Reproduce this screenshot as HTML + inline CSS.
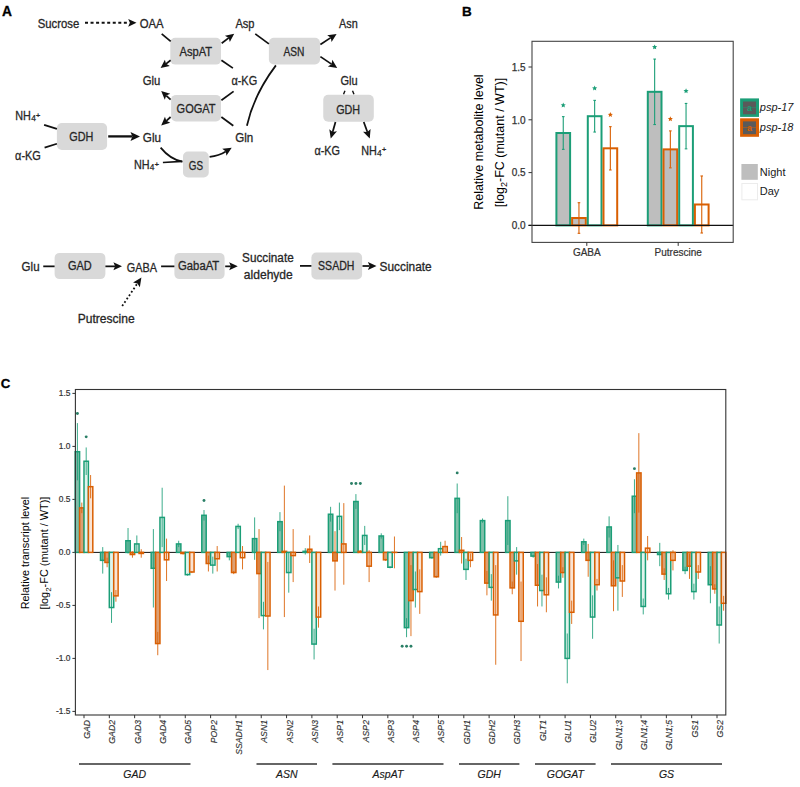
<!DOCTYPE html>
<html><head><meta charset="utf-8"><style>
html,body{margin:0;padding:0;background:#fff;}
svg{display:block;font-family:"Liberation Sans",sans-serif;}
</style></head><body>
<svg width="800" height="787" viewBox="0 0 800 787">
<rect width="800" height="787" fill="#fff"/>
<rect x="170.3" y="37.75" width="50.7" height="26.85" rx="5" ry="5" fill="#d9d9d9"/>
<rect x="171.1" y="94.9" width="49.9" height="26.6" rx="5" ry="5" fill="#d9d9d9"/>
<rect x="56.9" y="123.1" width="50.2" height="26.8" rx="5" ry="5" fill="#d9d9d9"/>
<rect x="183" y="151.5" width="25.75" height="25.9" rx="5" ry="5" fill="#d9d9d9"/>
<rect x="268.9" y="37.7" width="51.1" height="26.8" rx="5" ry="5" fill="#d9d9d9"/>
<rect x="323.25" y="94.7" width="50.55" height="27" rx="5" ry="5" fill="#d9d9d9"/>
<rect x="54.6" y="252.9" width="50.8" height="26.2" rx="5" ry="5" fill="#d9d9d9"/>
<rect x="174.4" y="252.9" width="50.2" height="26.2" rx="5" ry="5" fill="#d9d9d9"/>
<rect x="311.4" y="252.6" width="50.7" height="26.8" rx="5" ry="5" fill="#d9d9d9"/>
<line x1="85" y1="22.8" x2="127.5" y2="22.8" stroke="#111" stroke-width="1.9" stroke-dasharray="3 2.55"/>
<path d="M136.5,22.8 L128.2,26.7 L129.86,22.8 L128.2,18.9 Z" fill="#111"/>
<line x1="161.7" y1="33.8" x2="170.7" y2="41.4" stroke="#111" stroke-width="1.75" />
<path d="M234.2,33.7 L229.82,42.11 L228.74,37.89 L224.94,35.77 Z" fill="#111"/>
<line x1="221.7" y1="43.3" x2="228.74" y2="37.89" stroke="#111" stroke-width="1.75" />
<line x1="221.4" y1="60.25" x2="232.9" y2="68.1" stroke="#111" stroke-width="1.75" />
<path d="M160.6,68.1 L164.89,59.64 L166.01,63.85 L169.83,65.94 Z" fill="#111"/>
<line x1="170.6" y1="60.25" x2="166.01" y2="63.85" stroke="#111" stroke-width="1.75" />
<path d="M161.2,90.9 L170.23,93.81 L166.25,95.57 L164.79,99.68 Z" fill="#111"/>
<line x1="170.6" y1="99.6" x2="166.25" y2="95.57" stroke="#111" stroke-width="1.75" />
<line x1="221.4" y1="100.2" x2="233.6" y2="91.4" stroke="#111" stroke-width="1.75" />
<path d="M161.2,125.4 L164.95,116.69 L166.33,120.82 L170.28,122.65 Z" fill="#111"/>
<line x1="170.6" y1="117" x2="166.33" y2="120.82" stroke="#111" stroke-width="1.75" />
<line x1="221.4" y1="117" x2="233.3" y2="125.75" stroke="#111" stroke-width="1.75" />
<path d="M246.9,125.8 Q253.8,94.8 275.9,65.4" fill="none" stroke="#111" stroke-width="1.75"/>
<path d="M140,136.4 L130.5,140.9 L132.4,136.4 L130.5,131.9 Z" fill="#111"/>
<line x1="108.2" y1="136.4" x2="132.4" y2="136.4" stroke="#111" stroke-width="2.3" />
<line x1="44.1" y1="124.9" x2="56.9" y2="128.9" stroke="#111" stroke-width="1.75" />
<line x1="44.6" y1="147.6" x2="56.9" y2="143.75" stroke="#111" stroke-width="1.75" />
<path d="M160.6,147.6 Q170.5,159.6 182.4,161.6" fill="none" stroke="#111" stroke-width="1.75"/>
<line x1="162.9" y1="162.5" x2="182.2" y2="161.3" stroke="#111" stroke-width="1.75" />
<path d="M231.7,147.8 L226.44,155.69 L225.82,151.38 L222.27,148.86 Z" fill="#111"/>
<path d="M209.6,156.9 Q218.9,155.6 225.82,151.38" fill="none" stroke="#111" stroke-width="1.75"/>
<line x1="255.25" y1="33.9" x2="268.9" y2="43.85" stroke="#111" stroke-width="1.75" />
<path d="M336.6,33.9 L331.56,41.93 L330.83,37.64 L327.21,35.22 Z" fill="#111"/>
<line x1="320.4" y1="44.4" x2="330.83" y2="37.64" stroke="#111" stroke-width="1.75" />
<path d="M337.2,68 L327.84,66.48 L331.51,64.14 L332.33,59.86 Z" fill="#111"/>
<line x1="320.4" y1="56.6" x2="331.51" y2="64.14" stroke="#111" stroke-width="1.75" />
<line x1="343.5" y1="94.25" x2="345" y2="90.8" stroke="#111" stroke-width="1.4" />
<line x1="352.5" y1="90.8" x2="354" y2="94.25" stroke="#111" stroke-width="1.4" />
<path d="M330.75,138.5 L329.29,129.13 L332.65,131.89 L336.97,131.34 Z" fill="#111"/>
<line x1="335.5" y1="122" x2="332.65" y2="131.89" stroke="#111" stroke-width="1.75" />
<path d="M369.75,138.5 L363.05,131.78 L367.4,132.03 L370.57,129.05 Z" fill="#111"/>
<line x1="363.75" y1="122" x2="367.4" y2="132.03" stroke="#111" stroke-width="1.75" />
<line x1="43.25" y1="266.35" x2="54.6" y2="266.35" stroke="#111" stroke-width="1.75" />
<path d="M122,266.35 L113.4,270.35 L115.12,266.35 L113.4,262.35 Z" fill="#111"/>
<line x1="105.4" y1="266.35" x2="115.12" y2="266.35" stroke="#111" stroke-width="1.75" />
<line x1="161.1" y1="266.35" x2="174.4" y2="266.35" stroke="#111" stroke-width="1.75" />
<path d="M237.75,266.35 L229.15,270.35 L230.87,266.35 L229.15,262.35 Z" fill="#111"/>
<line x1="225.2" y1="266.35" x2="230.87" y2="266.35" stroke="#111" stroke-width="1.75" />
<line x1="300" y1="265.9" x2="311.4" y2="265.9" stroke="#111" stroke-width="1.75" />
<path d="M376.5,266 L367.9,270 L369.62,266 L367.9,262 Z" fill="#111"/>
<line x1="362.5" y1="266" x2="369.62" y2="266" stroke="#111" stroke-width="1.75" />
<path d="M141.4,277.6 L139.85,287.18 L137.44,283.42 L133.06,282.58 Z" fill="#111"/>
<line x1="122.2" y1="306" x2="137.44" y2="283.42" stroke="#111" stroke-width="1.8" stroke-dasharray="1.8 2.25"/>
<text x="37.7" y="27.8" font-size="12.5" textLength="41.6" lengthAdjust="spacingAndGlyphs" fill="#262626" stroke="#262626" stroke-width="0.3" >Sucrose</text>
<text x="139.7" y="27.8" font-size="12.5" textLength="23.9" lengthAdjust="spacingAndGlyphs" fill="#262626" stroke="#262626" stroke-width="0.3" >OAA</text>
<text x="235.4" y="27.7" font-size="12.5" textLength="19.1" lengthAdjust="spacingAndGlyphs" fill="#262626" stroke="#262626" stroke-width="0.3" >Asp</text>
<text x="339.1" y="27.75" font-size="12.5" textLength="18.7" lengthAdjust="spacingAndGlyphs" fill="#262626" stroke="#262626" stroke-width="0.3" >Asn</text>
<text x="179.5" y="55.75" font-size="12.5" textLength="32.6" lengthAdjust="spacingAndGlyphs" fill="#262626" stroke="#262626" stroke-width="0.3" >AspAT</text>
<text x="283.45" y="56.1" font-size="12.5" textLength="20.95" lengthAdjust="spacingAndGlyphs" fill="#262626" stroke="#262626" stroke-width="0.3" >ASN</text>
<text x="142.8" y="84.75" font-size="12.5" textLength="17.6" lengthAdjust="spacingAndGlyphs" fill="#262626" stroke="#262626" stroke-width="0.3" >Glu</text>
<text x="231.4" y="84.75" font-size="12.5" textLength="25.8" lengthAdjust="spacingAndGlyphs" fill="#262626" stroke="#262626" stroke-width="0.3" >&#945;-KG</text>
<text x="340.4" y="84.8" font-size="12.5" textLength="17.15" lengthAdjust="spacingAndGlyphs" fill="#262626" stroke="#262626" stroke-width="0.3" >Glu</text>
<text x="176.6" y="113.3" font-size="12.5" textLength="39" lengthAdjust="spacingAndGlyphs" fill="#262626" stroke="#262626" stroke-width="0.3" >GOGAT</text>
<text x="336.2" y="113.75" font-size="12.5" textLength="23.9" lengthAdjust="spacingAndGlyphs" fill="#262626" stroke="#262626" stroke-width="0.3" >GDH</text>
<text x="15.3" y="120.1" font-size="12.3" textLength="15.6" lengthAdjust="spacingAndGlyphs" fill="#262626" stroke="#262626" stroke-width="0.3">NH</text>
<text x="31.2" y="121.1" font-size="8.4" fill="#262626" stroke="#262626" stroke-width="0.25">4</text>
<text x="35.8" y="117.5" font-size="8" font-weight="bold" fill="#262626">+</text>
<text x="69.3" y="141.1" font-size="12.5" textLength="24.1" lengthAdjust="spacingAndGlyphs" fill="#262626" stroke="#262626" stroke-width="0.3" >GDH</text>
<text x="142.8" y="142" font-size="12.5" textLength="18.2" lengthAdjust="spacingAndGlyphs" fill="#262626" stroke="#262626" stroke-width="0.3" >Glu</text>
<text x="235.2" y="142" font-size="12.5" textLength="18" lengthAdjust="spacingAndGlyphs" fill="#262626" stroke="#262626" stroke-width="0.3" >Gln</text>
<text x="15.1" y="159.5" font-size="12.5" textLength="25.8" lengthAdjust="spacingAndGlyphs" fill="#262626" stroke="#262626" stroke-width="0.3" >&#945;-KG</text>
<text x="314.45" y="155" font-size="12.5" textLength="25.55" lengthAdjust="spacingAndGlyphs" fill="#262626" stroke="#262626" stroke-width="0.3" >&#945;-KG</text>
<text x="361.15" y="155" font-size="12.3" textLength="15.6" lengthAdjust="spacingAndGlyphs" fill="#262626" stroke="#262626" stroke-width="0.3">NH</text>
<text x="377.05" y="156" font-size="8.4" fill="#262626" stroke="#262626" stroke-width="0.25">4</text>
<text x="381.65" y="152.4" font-size="8" font-weight="bold" fill="#262626">+</text>
<text x="133.9" y="169.2" font-size="12.3" textLength="15.6" lengthAdjust="spacingAndGlyphs" fill="#262626" stroke="#262626" stroke-width="0.3">NH</text>
<text x="149.8" y="170.2" font-size="8.4" fill="#262626" stroke="#262626" stroke-width="0.25">4</text>
<text x="154.4" y="166.6" font-size="8" font-weight="bold" fill="#262626">+</text>
<text x="188.8" y="169.5" font-size="12.5" textLength="14.2" lengthAdjust="spacingAndGlyphs" fill="#262626" stroke="#262626" stroke-width="0.3" >GS</text>
<text x="21.6" y="271.25" font-size="12.5" textLength="17.95" lengthAdjust="spacingAndGlyphs" fill="#262626" stroke="#262626" stroke-width="0.3" >Glu</text>
<text x="67.95" y="270" font-size="12.5" textLength="23.75" lengthAdjust="spacingAndGlyphs" fill="#262626" stroke="#262626" stroke-width="0.3" >GAD</text>
<text x="126.8" y="271.6" font-size="12.5" textLength="30.25" lengthAdjust="spacingAndGlyphs" fill="#262626" stroke="#262626" stroke-width="0.3" >GABA</text>
<text x="178.1" y="270" font-size="12.5" textLength="41.1" lengthAdjust="spacingAndGlyphs" fill="#262626" stroke="#262626" stroke-width="0.3" >GabaAT</text>
<text x="242.1" y="261.9" font-size="12.5" textLength="51.6" lengthAdjust="spacingAndGlyphs" fill="#262626" stroke="#262626" stroke-width="0.3" >Succinate</text>
<text x="243.85" y="279.4" font-size="12.5" textLength="48.95" lengthAdjust="spacingAndGlyphs" fill="#262626" stroke="#262626" stroke-width="0.3" >aldehyde</text>
<text x="318.1" y="270.1" font-size="12.5" textLength="36.3" lengthAdjust="spacingAndGlyphs" fill="#262626" stroke="#262626" stroke-width="0.3" >SSADH</text>
<text x="379.6" y="271.25" font-size="12.5" textLength="52.1" lengthAdjust="spacingAndGlyphs" fill="#262626" stroke="#262626" stroke-width="0.3" >Succinate</text>
<text x="77.7" y="323" font-size="12.5" textLength="57" lengthAdjust="spacingAndGlyphs" fill="#262626" stroke="#262626" stroke-width="0.3" >Putrescine</text>
<text x="2.1" y="16" font-size="13.8" font-weight="bold" fill="#000" stroke="#000" stroke-width="0.3">A</text>
<text x="462" y="15.6" font-size="13.5" font-weight="bold" fill="#000" stroke="#000" stroke-width="0.3">B</text>
<text x="0.8" y="387.6" font-size="13.3" font-weight="bold" fill="#000" stroke="#000" stroke-width="0.3">C</text>
<line x1="528.5" y1="225.4" x2="532" y2="225.4" stroke="#333" stroke-width="1"/>
<text x="525.6" y="229.1" font-size="10" text-anchor="end" fill="#333" stroke="#333" stroke-width="0.25">0.0</text>
<line x1="528.5" y1="172.6" x2="532" y2="172.6" stroke="#333" stroke-width="1"/>
<text x="525.6" y="176.3" font-size="10" text-anchor="end" fill="#333" stroke="#333" stroke-width="0.25">0.5</text>
<line x1="528.5" y1="119.8" x2="532" y2="119.8" stroke="#333" stroke-width="1"/>
<text x="525.6" y="123.5" font-size="10" text-anchor="end" fill="#333" stroke="#333" stroke-width="0.25">1.0</text>
<line x1="528.5" y1="67" x2="532" y2="67" stroke="#333" stroke-width="1"/>
<text x="525.6" y="70.7" font-size="10" text-anchor="end" fill="#333" stroke="#333" stroke-width="0.25">1.5</text>
<rect x="556.4" y="133" width="13.7" height="92.4" fill="#bebebe" stroke="#1b9e77" stroke-width="2"/>
<rect x="572.1" y="218.01" width="13.7" height="7.39" fill="#bebebe" stroke="#d95f02" stroke-width="2"/>
<rect x="587.8" y="116.21" width="13.7" height="109.19" fill="white" stroke="#1b9e77" stroke-width="2"/>
<rect x="603.5" y="148.31" width="13.7" height="77.09" fill="white" stroke="#d95f02" stroke-width="2"/>
<line x1="563.25" y1="116.63" x2="563.25" y2="149.37" stroke="#1b9e77" stroke-width="1.1"/>
<line x1="561.95" y1="116.63" x2="564.55" y2="116.63" stroke="#1b9e77" stroke-width="1.1"/>
<line x1="561.95" y1="149.37" x2="564.55" y2="149.37" stroke="#1b9e77" stroke-width="1.1"/>
<polygon points="563.25,102.52 563.98,104.2 565.82,104.38 564.44,105.6 564.84,107.4 563.25,106.47 561.66,107.4 562.06,105.6 560.68,104.38 562.52,104.2" fill="#1b9e77"/>
<line x1="578.95" y1="202.7" x2="578.95" y2="233.32" stroke="#d95f02" stroke-width="1.1"/>
<line x1="577.65" y1="202.7" x2="580.25" y2="202.7" stroke="#d95f02" stroke-width="1.1"/>
<line x1="577.65" y1="233.32" x2="580.25" y2="233.32" stroke="#d95f02" stroke-width="1.1"/>
<line x1="594.65" y1="100.37" x2="594.65" y2="132.05" stroke="#1b9e77" stroke-width="1.1"/>
<line x1="593.35" y1="100.37" x2="595.95" y2="100.37" stroke="#1b9e77" stroke-width="1.1"/>
<line x1="593.35" y1="132.05" x2="595.95" y2="132.05" stroke="#1b9e77" stroke-width="1.1"/>
<polygon points="594.65,85.62 595.38,87.31 597.22,87.49 595.84,88.71 596.24,90.5 594.65,89.57 593.06,90.5 593.46,88.71 592.08,87.49 593.92,87.31" fill="#1b9e77"/>
<line x1="610.35" y1="126.66" x2="610.35" y2="169.96" stroke="#d95f02" stroke-width="1.1"/>
<line x1="609.05" y1="126.66" x2="611.65" y2="126.66" stroke="#d95f02" stroke-width="1.1"/>
<line x1="609.05" y1="169.96" x2="611.65" y2="169.96" stroke="#d95f02" stroke-width="1.1"/>
<polygon points="610.35,112.02 611.08,113.71 612.92,113.89 611.54,115.11 611.94,116.9 610.35,115.97 608.76,116.9 609.16,115.11 607.78,113.89 609.62,113.71" fill="#d95f02"/>
<rect x="647.8" y="91.82" width="13.7" height="133.58" fill="#bebebe" stroke="#1b9e77" stroke-width="2"/>
<rect x="663.5" y="149.37" width="13.7" height="76.03" fill="#bebebe" stroke="#d95f02" stroke-width="2"/>
<rect x="679.2" y="126.14" width="13.7" height="99.26" fill="white" stroke="#1b9e77" stroke-width="2"/>
<rect x="694.9" y="204.49" width="13.7" height="20.91" fill="white" stroke="#d95f02" stroke-width="2"/>
<line x1="654.65" y1="59.08" x2="654.65" y2="124.55" stroke="#1b9e77" stroke-width="1.1"/>
<line x1="653.35" y1="59.08" x2="655.95" y2="59.08" stroke="#1b9e77" stroke-width="1.1"/>
<line x1="653.35" y1="124.55" x2="655.95" y2="124.55" stroke="#1b9e77" stroke-width="1.1"/>
<polygon points="654.65,44.44 655.38,46.12 657.22,46.3 655.84,47.52 656.24,49.32 654.65,48.39 653.06,49.32 653.46,47.52 652.08,46.3 653.92,46.12" fill="#1b9e77"/>
<line x1="670.35" y1="130.89" x2="670.35" y2="167.85" stroke="#d95f02" stroke-width="1.1"/>
<line x1="669.05" y1="130.89" x2="671.65" y2="130.89" stroke="#d95f02" stroke-width="1.1"/>
<line x1="669.05" y1="167.85" x2="671.65" y2="167.85" stroke="#d95f02" stroke-width="1.1"/>
<polygon points="670.35,116.24 671.08,117.93 672.92,118.11 671.54,119.33 671.94,121.13 670.35,120.19 668.76,121.13 669.16,119.33 667.78,118.11 669.62,117.93" fill="#d95f02"/>
<line x1="686.05" y1="103.43" x2="686.05" y2="148.84" stroke="#1b9e77" stroke-width="1.1"/>
<line x1="684.75" y1="103.43" x2="687.35" y2="103.43" stroke="#1b9e77" stroke-width="1.1"/>
<line x1="684.75" y1="148.84" x2="687.35" y2="148.84" stroke="#1b9e77" stroke-width="1.1"/>
<polygon points="686.05,88.37 686.78,90.05 688.62,90.23 687.24,91.45 687.64,93.25 686.05,92.32 684.46,93.25 684.86,91.45 683.48,90.23 685.32,90.05" fill="#1b9e77"/>
<line x1="701.75" y1="175.98" x2="701.75" y2="233" stroke="#d95f02" stroke-width="1.1"/>
<line x1="700.45" y1="175.98" x2="703.05" y2="175.98" stroke="#d95f02" stroke-width="1.1"/>
<line x1="700.45" y1="233" x2="703.05" y2="233" stroke="#d95f02" stroke-width="1.1"/>
<line x1="528.5" y1="225.4" x2="733.2" y2="225.4" stroke="#111" stroke-width="1.1"/>
<rect x="532" y="41.3" width="201.2" height="201.1" fill="none" stroke="#444" stroke-width="1.1"/>
<line x1="586.8" y1="242.4" x2="586.8" y2="245.9" stroke="#333" stroke-width="1"/>
<text x="586.8" y="255.6" font-size="10" text-anchor="middle" fill="#333" stroke="#333" stroke-width="0.2">GABA</text>
<line x1="678.2" y1="242.4" x2="678.2" y2="245.9" stroke="#333" stroke-width="1"/>
<text x="678.2" y="255.6" font-size="10" text-anchor="middle" fill="#333" stroke="#333" stroke-width="0.2">Putrescine</text>
<text transform="translate(482.6,142.1) rotate(-90)" font-size="12.5" text-anchor="middle" fill="#000">Relative metabolite level</text>
<text transform="translate(504.4,142.5) rotate(-90)" font-size="12.5" text-anchor="middle" fill="#000">[log<tspan font-size="9" dy="2.5">2</tspan><tspan dy="-2.5">-FC (mutant / WT)]</tspan></text>
<rect x="740.1" y="98.4" width="18.9" height="18.5" fill="#1b9e77"/>
<rect x="743" y="101.5" width="13" height="12.8" fill="#5a5a5a"/>
<line x1="743" y1="107.6" x2="756" y2="107.6" stroke="#1b9e77" stroke-width="0.8" stroke-opacity="0.6"/>
<text x="749.5" y="111.4" font-size="9" font-weight="bold" text-anchor="middle" fill="#1b9e77">a</text>
<rect x="740.1" y="118.3" width="18.9" height="18.5" fill="#d95f02"/>
<rect x="743" y="121.4" width="13" height="12.8" fill="#5a5a5a"/>
<line x1="743" y1="127.5" x2="756" y2="127.5" stroke="#d95f02" stroke-width="0.8" stroke-opacity="0.6"/>
<text x="749.5" y="131.3" font-size="9" font-weight="bold" text-anchor="middle" fill="#d95f02">a</text>
<text x="759.8" y="111.4" font-size="11" font-style="italic" fill="#1a1a1a">psp-17</text>
<text x="759.8" y="131.1" font-size="11" font-style="italic" fill="#1a1a1a">psp-18</text>
<rect x="741.4" y="164" width="16.4" height="15.8" fill="#bebebe"/>
<rect x="741.9" y="183.5" width="15.6" height="16.3" fill="white" stroke="#ececec" stroke-width="1"/>
<text x="759.8" y="175.8" font-size="11" fill="#1a1a1a">Night</text>
<text x="759.8" y="195.4" font-size="11" fill="#1a1a1a">Day</text>
<line x1="72.4" y1="393.4" x2="75.4" y2="393.4" stroke="#333" stroke-width="1"/>
<text x="70.4" y="396.4" font-size="8.4" text-anchor="end" fill="#333" stroke="#333" stroke-width="0.2">1.5</text>
<line x1="72.4" y1="446.4" x2="75.4" y2="446.4" stroke="#333" stroke-width="1"/>
<text x="70.4" y="449.4" font-size="8.4" text-anchor="end" fill="#333" stroke="#333" stroke-width="0.2">1.0</text>
<line x1="72.4" y1="499.4" x2="75.4" y2="499.4" stroke="#333" stroke-width="1"/>
<text x="70.4" y="502.4" font-size="8.4" text-anchor="end" fill="#333" stroke="#333" stroke-width="0.2">0.5</text>
<line x1="72.4" y1="552.4" x2="75.4" y2="552.4" stroke="#333" stroke-width="1"/>
<text x="70.4" y="555.4" font-size="8.4" text-anchor="end" fill="#333" stroke="#333" stroke-width="0.2">0.0</text>
<line x1="72.4" y1="605.4" x2="75.4" y2="605.4" stroke="#333" stroke-width="1"/>
<text x="70.4" y="608.4" font-size="8.4" text-anchor="end" fill="#333" stroke="#333" stroke-width="0.2">-0.5</text>
<line x1="72.4" y1="658.4" x2="75.4" y2="658.4" stroke="#333" stroke-width="1"/>
<text x="70.4" y="661.4" font-size="8.4" text-anchor="end" fill="#333" stroke="#333" stroke-width="0.2">-1.0</text>
<line x1="72.4" y1="711.4" x2="75.4" y2="711.4" stroke="#333" stroke-width="1"/>
<text x="70.4" y="714.4" font-size="8.4" text-anchor="end" fill="#333" stroke="#333" stroke-width="0.2">-1.5</text>
<line x1="75.4" y1="552.4" x2="725.8" y2="552.4" stroke="#111" stroke-width="1"/>
<rect x="75.2" y="451.7" width="4.4" height="100.7" fill="#80bfa9" stroke="#1b9e77" stroke-width="1.5"/>
<rect x="79.6" y="507.88" width="4.4" height="44.52" fill="#dd9f72" stroke="#d95f02" stroke-width="1.5"/>
<rect x="84" y="461.24" width="4.4" height="91.16" fill="#e0f3ec" stroke="#1b9e77" stroke-width="1.5"/>
<rect x="88.4" y="486.68" width="4.4" height="65.72" fill="#fae3d3" stroke="#d95f02" stroke-width="1.5"/>
<line x1="77.4" y1="423.08" x2="77.4" y2="480.32" stroke="#1b9e77" stroke-width="0.95" stroke-opacity="0.9"/>
<line x1="81.8" y1="502.58" x2="81.8" y2="513.18" stroke="#d95f02" stroke-width="0.95" stroke-opacity="0.9"/>
<line x1="86.2" y1="447.46" x2="86.2" y2="475.02" stroke="#1b9e77" stroke-width="0.95" stroke-opacity="0.9"/>
<line x1="90.6" y1="475.02" x2="90.6" y2="498.34" stroke="#d95f02" stroke-width="0.95" stroke-opacity="0.9"/>
<rect x="100.52" y="552.4" width="4.4" height="7.95" fill="#80bfa9" stroke="#1b9e77" stroke-width="1.5"/>
<rect x="104.92" y="552.4" width="4.4" height="10.07" fill="#dd9f72" stroke="#d95f02" stroke-width="1.5"/>
<rect x="109.32" y="552.4" width="4.4" height="55.12" fill="#e0f3ec" stroke="#1b9e77" stroke-width="1.5"/>
<rect x="113.72" y="552.4" width="4.4" height="43.46" fill="#fae3d3" stroke="#d95f02" stroke-width="1.5"/>
<line x1="102.72" y1="547.1" x2="102.72" y2="573.6" stroke="#1b9e77" stroke-width="0.95" stroke-opacity="0.9"/>
<line x1="107.12" y1="557.7" x2="107.12" y2="567.24" stroke="#d95f02" stroke-width="0.95" stroke-opacity="0.9"/>
<line x1="111.52" y1="592.15" x2="111.52" y2="622.89" stroke="#1b9e77" stroke-width="0.95" stroke-opacity="0.9"/>
<line x1="115.92" y1="590.03" x2="115.92" y2="601.69" stroke="#d95f02" stroke-width="0.95" stroke-opacity="0.9"/>
<rect x="125.84" y="540.74" width="4.4" height="11.66" fill="#80bfa9" stroke="#1b9e77" stroke-width="1.5"/>
<rect x="130.24" y="552.4" width="4.4" height="2.12" fill="#dd9f72" stroke="#d95f02" stroke-width="1.5"/>
<rect x="134.64" y="543.92" width="4.4" height="8.48" fill="#e0f3ec" stroke="#1b9e77" stroke-width="1.5"/>
<rect x="139.04" y="552.4" width="4.4" height="1.06" fill="#fae3d3" stroke="#d95f02" stroke-width="1.5"/>
<line x1="128.04" y1="528.02" x2="128.04" y2="553.46" stroke="#1b9e77" stroke-width="0.95" stroke-opacity="0.9"/>
<line x1="132.44" y1="551.34" x2="132.44" y2="557.7" stroke="#d95f02" stroke-width="0.95" stroke-opacity="0.9"/>
<line x1="136.84" y1="535.44" x2="136.84" y2="552.4" stroke="#1b9e77" stroke-width="0.95" stroke-opacity="0.9"/>
<line x1="141.24" y1="549.22" x2="141.24" y2="557.7" stroke="#d95f02" stroke-width="0.95" stroke-opacity="0.9"/>
<rect x="151.16" y="552.4" width="4.4" height="15.9" fill="#80bfa9" stroke="#1b9e77" stroke-width="1.5"/>
<rect x="155.56" y="552.4" width="4.4" height="91.16" fill="#dd9f72" stroke="#d95f02" stroke-width="1.5"/>
<rect x="159.96" y="517.42" width="4.4" height="34.98" fill="#e0f3ec" stroke="#1b9e77" stroke-width="1.5"/>
<rect x="164.36" y="552.4" width="4.4" height="7.42" fill="#fae3d3" stroke="#d95f02" stroke-width="1.5"/>
<line x1="153.36" y1="529.08" x2="153.36" y2="607.52" stroke="#1b9e77" stroke-width="0.95" stroke-opacity="0.9"/>
<line x1="157.76" y1="631.9" x2="157.76" y2="655.22" stroke="#d95f02" stroke-width="0.95" stroke-opacity="0.9"/>
<line x1="162.16" y1="487.74" x2="162.16" y2="547.1" stroke="#1b9e77" stroke-width="0.95" stroke-opacity="0.9"/>
<line x1="166.56" y1="538.62" x2="166.56" y2="581.02" stroke="#d95f02" stroke-width="0.95" stroke-opacity="0.9"/>
<rect x="176.48" y="543.92" width="4.4" height="8.48" fill="#80bfa9" stroke="#1b9e77" stroke-width="1.5"/>
<rect x="180.88" y="552.4" width="4.4" height="1.06" fill="#dd9f72" stroke="#d95f02" stroke-width="1.5"/>
<rect x="185.28" y="552.4" width="4.4" height="22.26" fill="#e0f3ec" stroke="#1b9e77" stroke-width="1.5"/>
<rect x="189.68" y="552.4" width="4.4" height="19.61" fill="#fae3d3" stroke="#d95f02" stroke-width="1.5"/>
<line x1="178.68" y1="540.74" x2="178.68" y2="547.1" stroke="#1b9e77" stroke-width="0.95" stroke-opacity="0.9"/>
<line x1="183.08" y1="552.4" x2="183.08" y2="554.52" stroke="#d95f02" stroke-width="0.95" stroke-opacity="0.9"/>
<line x1="187.48" y1="573.6" x2="187.48" y2="575.72" stroke="#1b9e77" stroke-width="0.95" stroke-opacity="0.9"/>
<line x1="191.88" y1="570.95" x2="191.88" y2="573.07" stroke="#d95f02" stroke-width="0.95" stroke-opacity="0.9"/>
<rect x="201.8" y="515.3" width="4.4" height="37.1" fill="#80bfa9" stroke="#1b9e77" stroke-width="1.5"/>
<rect x="206.2" y="552.4" width="4.4" height="11.13" fill="#dd9f72" stroke="#d95f02" stroke-width="1.5"/>
<rect x="210.6" y="552.4" width="4.4" height="12.72" fill="#e0f3ec" stroke="#1b9e77" stroke-width="1.5"/>
<rect x="215" y="552.4" width="4.4" height="6.36" fill="#fae3d3" stroke="#d95f02" stroke-width="1.5"/>
<line x1="204" y1="510" x2="204" y2="520.6" stroke="#1b9e77" stroke-width="0.95" stroke-opacity="0.9"/>
<line x1="208.4" y1="555.58" x2="208.4" y2="571.48" stroke="#d95f02" stroke-width="0.95" stroke-opacity="0.9"/>
<line x1="212.8" y1="556.64" x2="212.8" y2="573.6" stroke="#1b9e77" stroke-width="0.95" stroke-opacity="0.9"/>
<line x1="217.2" y1="546.04" x2="217.2" y2="571.48" stroke="#d95f02" stroke-width="0.95" stroke-opacity="0.9"/>
<rect x="227.12" y="552.4" width="4.4" height="4.24" fill="#80bfa9" stroke="#1b9e77" stroke-width="1.5"/>
<rect x="231.52" y="552.4" width="4.4" height="20.14" fill="#dd9f72" stroke="#d95f02" stroke-width="1.5"/>
<rect x="235.92" y="526.43" width="4.4" height="25.97" fill="#e0f3ec" stroke="#1b9e77" stroke-width="1.5"/>
<rect x="240.32" y="552.4" width="4.4" height="5.3" fill="#fae3d3" stroke="#d95f02" stroke-width="1.5"/>
<line x1="229.32" y1="552.93" x2="229.32" y2="560.35" stroke="#1b9e77" stroke-width="0.95" stroke-opacity="0.9"/>
<line x1="233.72" y1="570.95" x2="233.72" y2="574.13" stroke="#d95f02" stroke-width="0.95" stroke-opacity="0.9"/>
<line x1="238.12" y1="523.78" x2="238.12" y2="529.08" stroke="#1b9e77" stroke-width="0.95" stroke-opacity="0.9"/>
<line x1="242.52" y1="546.04" x2="242.52" y2="569.36" stroke="#d95f02" stroke-width="0.95" stroke-opacity="0.9"/>
<rect x="252.44" y="538.62" width="4.4" height="13.78" fill="#80bfa9" stroke="#1b9e77" stroke-width="1.5"/>
<rect x="256.84" y="552.4" width="4.4" height="21.2" fill="#dd9f72" stroke="#d95f02" stroke-width="1.5"/>
<rect x="261.24" y="552.4" width="4.4" height="63.18" fill="#e0f3ec" stroke="#1b9e77" stroke-width="1.5"/>
<rect x="265.64" y="552.4" width="4.4" height="63.6" fill="#fae3d3" stroke="#d95f02" stroke-width="1.5"/>
<line x1="254.64" y1="517.42" x2="254.64" y2="559.82" stroke="#1b9e77" stroke-width="0.95" stroke-opacity="0.9"/>
<line x1="259.04" y1="529.08" x2="259.04" y2="618.12" stroke="#d95f02" stroke-width="0.95" stroke-opacity="0.9"/>
<line x1="263.44" y1="601.8" x2="263.44" y2="629.36" stroke="#1b9e77" stroke-width="0.95" stroke-opacity="0.9"/>
<line x1="267.84" y1="561.94" x2="267.84" y2="670.06" stroke="#d95f02" stroke-width="0.95" stroke-opacity="0.9"/>
<rect x="277.76" y="521.66" width="4.4" height="30.74" fill="#80bfa9" stroke="#1b9e77" stroke-width="1.5"/>
<rect x="282.16" y="551.34" width="4.4" height="1.06" fill="#dd9f72" stroke="#d95f02" stroke-width="1.5"/>
<rect x="286.56" y="552.4" width="4.4" height="20.14" fill="#e0f3ec" stroke="#1b9e77" stroke-width="1.5"/>
<rect x="290.96" y="552.4" width="4.4" height="3.18" fill="#fae3d3" stroke="#d95f02" stroke-width="1.5"/>
<line x1="279.96" y1="512.12" x2="279.96" y2="531.2" stroke="#1b9e77" stroke-width="0.95" stroke-opacity="0.9"/>
<line x1="284.36" y1="485.62" x2="284.36" y2="617.06" stroke="#d95f02" stroke-width="0.95" stroke-opacity="0.9"/>
<line x1="288.76" y1="552.4" x2="288.76" y2="592.68" stroke="#1b9e77" stroke-width="0.95" stroke-opacity="0.9"/>
<line x1="293.16" y1="529.08" x2="293.16" y2="582.08" stroke="#d95f02" stroke-width="0.95" stroke-opacity="0.9"/>
<rect x="303.08" y="551.34" width="4.4" height="1.06" fill="#80bfa9" stroke="#1b9e77" stroke-width="1.5"/>
<rect x="307.48" y="549.22" width="4.4" height="3.18" fill="#dd9f72" stroke="#d95f02" stroke-width="1.5"/>
<rect x="311.88" y="552.4" width="4.4" height="91.69" fill="#e0f3ec" stroke="#1b9e77" stroke-width="1.5"/>
<rect x="316.28" y="552.4" width="4.4" height="64.66" fill="#fae3d3" stroke="#d95f02" stroke-width="1.5"/>
<line x1="305.28" y1="548.16" x2="305.28" y2="554.52" stroke="#1b9e77" stroke-width="0.95" stroke-opacity="0.9"/>
<line x1="309.68" y1="535.44" x2="309.68" y2="563" stroke="#d95f02" stroke-width="0.95" stroke-opacity="0.9"/>
<line x1="314.08" y1="628.72" x2="314.08" y2="659.46" stroke="#1b9e77" stroke-width="0.95" stroke-opacity="0.9"/>
<line x1="318.48" y1="606.46" x2="318.48" y2="627.66" stroke="#d95f02" stroke-width="0.95" stroke-opacity="0.9"/>
<rect x="328.4" y="514.24" width="4.4" height="38.16" fill="#80bfa9" stroke="#1b9e77" stroke-width="1.5"/>
<rect x="332.8" y="552.4" width="4.4" height="8.48" fill="#dd9f72" stroke="#d95f02" stroke-width="1.5"/>
<rect x="337.2" y="516.36" width="4.4" height="36.04" fill="#e0f3ec" stroke="#1b9e77" stroke-width="1.5"/>
<rect x="341.6" y="543.92" width="4.4" height="8.48" fill="#fae3d3" stroke="#d95f02" stroke-width="1.5"/>
<line x1="330.6" y1="506.82" x2="330.6" y2="521.66" stroke="#1b9e77" stroke-width="0.95" stroke-opacity="0.9"/>
<line x1="335" y1="531.2" x2="335" y2="590.56" stroke="#d95f02" stroke-width="0.95" stroke-opacity="0.9"/>
<line x1="339.4" y1="502.58" x2="339.4" y2="530.14" stroke="#1b9e77" stroke-width="0.95" stroke-opacity="0.9"/>
<line x1="343.8" y1="503.11" x2="343.8" y2="584.73" stroke="#d95f02" stroke-width="0.95" stroke-opacity="0.9"/>
<rect x="353.72" y="501.52" width="4.4" height="50.88" fill="#80bfa9" stroke="#1b9e77" stroke-width="1.5"/>
<rect x="358.12" y="551.34" width="4.4" height="1.06" fill="#dd9f72" stroke="#d95f02" stroke-width="1.5"/>
<rect x="362.52" y="535.44" width="4.4" height="16.96" fill="#e0f3ec" stroke="#1b9e77" stroke-width="1.5"/>
<rect x="366.92" y="552.4" width="4.4" height="13.78" fill="#fae3d3" stroke="#d95f02" stroke-width="1.5"/>
<line x1="355.92" y1="494.1" x2="355.92" y2="508.94" stroke="#1b9e77" stroke-width="0.95" stroke-opacity="0.9"/>
<line x1="360.32" y1="550.28" x2="360.32" y2="552.4" stroke="#d95f02" stroke-width="0.95" stroke-opacity="0.9"/>
<line x1="364.72" y1="525.9" x2="364.72" y2="544.98" stroke="#1b9e77" stroke-width="0.95" stroke-opacity="0.9"/>
<line x1="369.12" y1="550.28" x2="369.12" y2="582.08" stroke="#d95f02" stroke-width="0.95" stroke-opacity="0.9"/>
<rect x="379.04" y="535.97" width="4.4" height="16.43" fill="#80bfa9" stroke="#1b9e77" stroke-width="1.5"/>
<rect x="383.44" y="552.4" width="4.4" height="7.42" fill="#dd9f72" stroke="#d95f02" stroke-width="1.5"/>
<rect x="387.84" y="552.4" width="4.4" height="14.84" fill="#e0f3ec" stroke="#1b9e77" stroke-width="1.5"/>
<rect x="392.24" y="552.4" width="4.4" height="0.01" fill="#fae3d3" stroke="#d95f02" stroke-width="1.5"/>
<line x1="381.24" y1="533.32" x2="381.24" y2="538.62" stroke="#1b9e77" stroke-width="0.95" stroke-opacity="0.9"/>
<line x1="385.64" y1="558.76" x2="385.64" y2="560.88" stroke="#d95f02" stroke-width="0.95" stroke-opacity="0.9"/>
<line x1="390.04" y1="566.18" x2="390.04" y2="568.3" stroke="#1b9e77" stroke-width="0.95" stroke-opacity="0.9"/>
<line x1="394.44" y1="536.5" x2="394.44" y2="568.3" stroke="#d95f02" stroke-width="0.95" stroke-opacity="0.9"/>
<rect x="404.36" y="552.4" width="4.4" height="75.26" fill="#80bfa9" stroke="#1b9e77" stroke-width="1.5"/>
<rect x="408.76" y="552.4" width="4.4" height="48.23" fill="#dd9f72" stroke="#d95f02" stroke-width="1.5"/>
<rect x="413.16" y="552.4" width="4.4" height="37.1" fill="#e0f3ec" stroke="#1b9e77" stroke-width="1.5"/>
<rect x="417.56" y="552.4" width="4.4" height="39.22" fill="#fae3d3" stroke="#d95f02" stroke-width="1.5"/>
<line x1="406.56" y1="618.12" x2="406.56" y2="637.2" stroke="#1b9e77" stroke-width="0.95" stroke-opacity="0.9"/>
<line x1="410.96" y1="565.12" x2="410.96" y2="636.14" stroke="#d95f02" stroke-width="0.95" stroke-opacity="0.9"/>
<line x1="415.36" y1="571.48" x2="415.36" y2="607.52" stroke="#1b9e77" stroke-width="0.95" stroke-opacity="0.9"/>
<line x1="419.76" y1="569.36" x2="419.76" y2="613.88" stroke="#d95f02" stroke-width="0.95" stroke-opacity="0.9"/>
<rect x="429.68" y="552.4" width="4.4" height="5.3" fill="#80bfa9" stroke="#1b9e77" stroke-width="1.5"/>
<rect x="434.08" y="552.4" width="4.4" height="24.38" fill="#dd9f72" stroke="#d95f02" stroke-width="1.5"/>
<rect x="438.48" y="548.69" width="4.4" height="3.71" fill="#e0f3ec" stroke="#1b9e77" stroke-width="1.5"/>
<rect x="442.88" y="546.57" width="4.4" height="5.83" fill="#fae3d3" stroke="#d95f02" stroke-width="1.5"/>
<line x1="431.88" y1="556.64" x2="431.88" y2="558.76" stroke="#1b9e77" stroke-width="0.95" stroke-opacity="0.9"/>
<line x1="436.28" y1="575.72" x2="436.28" y2="577.84" stroke="#d95f02" stroke-width="0.95" stroke-opacity="0.9"/>
<line x1="440.68" y1="541.8" x2="440.68" y2="555.58" stroke="#1b9e77" stroke-width="0.95" stroke-opacity="0.9"/>
<line x1="445.08" y1="540.74" x2="445.08" y2="552.4" stroke="#d95f02" stroke-width="0.95" stroke-opacity="0.9"/>
<rect x="455" y="498.34" width="4.4" height="54.06" fill="#80bfa9" stroke="#1b9e77" stroke-width="1.5"/>
<rect x="459.4" y="550.28" width="4.4" height="2.12" fill="#dd9f72" stroke="#d95f02" stroke-width="1.5"/>
<rect x="463.8" y="552.4" width="4.4" height="16.96" fill="#e0f3ec" stroke="#1b9e77" stroke-width="1.5"/>
<rect x="468.2" y="552.4" width="4.4" height="7.95" fill="#fae3d3" stroke="#d95f02" stroke-width="1.5"/>
<line x1="457.2" y1="483.5" x2="457.2" y2="513.18" stroke="#1b9e77" stroke-width="0.95" stroke-opacity="0.9"/>
<line x1="461.6" y1="537.03" x2="461.6" y2="563.53" stroke="#d95f02" stroke-width="0.95" stroke-opacity="0.9"/>
<line x1="466" y1="558.76" x2="466" y2="579.96" stroke="#1b9e77" stroke-width="0.95" stroke-opacity="0.9"/>
<line x1="470.4" y1="553.46" x2="470.4" y2="567.24" stroke="#d95f02" stroke-width="0.95" stroke-opacity="0.9"/>
<rect x="480.32" y="520.6" width="4.4" height="31.8" fill="#80bfa9" stroke="#1b9e77" stroke-width="1.5"/>
<rect x="484.72" y="552.4" width="4.4" height="30.74" fill="#dd9f72" stroke="#d95f02" stroke-width="1.5"/>
<rect x="489.12" y="552.4" width="4.4" height="34.98" fill="#e0f3ec" stroke="#1b9e77" stroke-width="1.5"/>
<rect x="493.52" y="552.4" width="4.4" height="62.54" fill="#fae3d3" stroke="#d95f02" stroke-width="1.5"/>
<line x1="482.52" y1="518.48" x2="482.52" y2="522.72" stroke="#1b9e77" stroke-width="0.95" stroke-opacity="0.9"/>
<line x1="486.92" y1="570.95" x2="486.92" y2="595.33" stroke="#d95f02" stroke-width="0.95" stroke-opacity="0.9"/>
<line x1="491.32" y1="574.13" x2="491.32" y2="600.63" stroke="#1b9e77" stroke-width="0.95" stroke-opacity="0.9"/>
<line x1="495.72" y1="565.12" x2="495.72" y2="664.76" stroke="#d95f02" stroke-width="0.95" stroke-opacity="0.9"/>
<rect x="505.64" y="520.6" width="4.4" height="31.8" fill="#80bfa9" stroke="#1b9e77" stroke-width="1.5"/>
<rect x="510.04" y="552.4" width="4.4" height="35.51" fill="#dd9f72" stroke="#d95f02" stroke-width="1.5"/>
<rect x="514.44" y="552.4" width="4.4" height="8.48" fill="#e0f3ec" stroke="#1b9e77" stroke-width="1.5"/>
<rect x="518.84" y="552.4" width="4.4" height="68.9" fill="#fae3d3" stroke="#d95f02" stroke-width="1.5"/>
<line x1="507.84" y1="496.22" x2="507.84" y2="544.98" stroke="#1b9e77" stroke-width="0.95" stroke-opacity="0.9"/>
<line x1="512.24" y1="581.55" x2="512.24" y2="594.27" stroke="#d95f02" stroke-width="0.95" stroke-opacity="0.9"/>
<line x1="516.64" y1="547.1" x2="516.64" y2="574.66" stroke="#1b9e77" stroke-width="0.95" stroke-opacity="0.9"/>
<line x1="521.04" y1="581.55" x2="521.04" y2="661.05" stroke="#d95f02" stroke-width="0.95" stroke-opacity="0.9"/>
<rect x="530.96" y="552.4" width="4.4" height="3.71" fill="#80bfa9" stroke="#1b9e77" stroke-width="1.5"/>
<rect x="535.36" y="552.4" width="4.4" height="32.86" fill="#dd9f72" stroke="#d95f02" stroke-width="1.5"/>
<rect x="539.76" y="552.4" width="4.4" height="38.16" fill="#e0f3ec" stroke="#1b9e77" stroke-width="1.5"/>
<rect x="544.16" y="552.4" width="4.4" height="42.4" fill="#fae3d3" stroke="#d95f02" stroke-width="1.5"/>
<line x1="533.16" y1="554.52" x2="533.16" y2="557.7" stroke="#1b9e77" stroke-width="0.95" stroke-opacity="0.9"/>
<line x1="537.56" y1="564.06" x2="537.56" y2="606.46" stroke="#d95f02" stroke-width="0.95" stroke-opacity="0.9"/>
<line x1="541.96" y1="574.66" x2="541.96" y2="606.46" stroke="#1b9e77" stroke-width="0.95" stroke-opacity="0.9"/>
<line x1="546.36" y1="577.31" x2="546.36" y2="612.29" stroke="#d95f02" stroke-width="0.95" stroke-opacity="0.9"/>
<rect x="556.28" y="552.4" width="4.4" height="29.68" fill="#80bfa9" stroke="#1b9e77" stroke-width="1.5"/>
<rect x="560.68" y="552.4" width="4.4" height="20.14" fill="#dd9f72" stroke="#d95f02" stroke-width="1.5"/>
<rect x="565.08" y="552.4" width="4.4" height="106" fill="#e0f3ec" stroke="#1b9e77" stroke-width="1.5"/>
<rect x="569.48" y="552.4" width="4.4" height="59.89" fill="#fae3d3" stroke="#d95f02" stroke-width="1.5"/>
<line x1="558.48" y1="575.72" x2="558.48" y2="588.44" stroke="#1b9e77" stroke-width="0.95" stroke-opacity="0.9"/>
<line x1="562.88" y1="567.24" x2="562.88" y2="577.84" stroke="#d95f02" stroke-width="0.95" stroke-opacity="0.9"/>
<line x1="567.28" y1="633.49" x2="567.28" y2="683.31" stroke="#1b9e77" stroke-width="0.95" stroke-opacity="0.9"/>
<line x1="571.68" y1="600.63" x2="571.68" y2="623.95" stroke="#d95f02" stroke-width="0.95" stroke-opacity="0.9"/>
<rect x="581.6" y="541.8" width="4.4" height="10.6" fill="#80bfa9" stroke="#1b9e77" stroke-width="1.5"/>
<rect x="586" y="552.4" width="4.4" height="7.95" fill="#dd9f72" stroke="#d95f02" stroke-width="1.5"/>
<rect x="590.4" y="552.4" width="4.4" height="64.66" fill="#e0f3ec" stroke="#1b9e77" stroke-width="1.5"/>
<rect x="594.8" y="552.4" width="4.4" height="32.33" fill="#fae3d3" stroke="#d95f02" stroke-width="1.5"/>
<line x1="583.8" y1="538.62" x2="583.8" y2="544.98" stroke="#1b9e77" stroke-width="0.95" stroke-opacity="0.9"/>
<line x1="588.2" y1="543.92" x2="588.2" y2="576.78" stroke="#d95f02" stroke-width="0.95" stroke-opacity="0.9"/>
<line x1="592.6" y1="595.33" x2="592.6" y2="638.79" stroke="#1b9e77" stroke-width="0.95" stroke-opacity="0.9"/>
<line x1="597" y1="578.9" x2="597" y2="590.56" stroke="#d95f02" stroke-width="0.95" stroke-opacity="0.9"/>
<rect x="606.92" y="526.96" width="4.4" height="25.44" fill="#80bfa9" stroke="#1b9e77" stroke-width="1.5"/>
<rect x="611.32" y="552.4" width="4.4" height="33.39" fill="#dd9f72" stroke="#d95f02" stroke-width="1.5"/>
<rect x="615.72" y="552.4" width="4.4" height="25.44" fill="#e0f3ec" stroke="#1b9e77" stroke-width="1.5"/>
<rect x="620.12" y="552.4" width="4.4" height="28.62" fill="#fae3d3" stroke="#d95f02" stroke-width="1.5"/>
<line x1="609.12" y1="516.36" x2="609.12" y2="537.56" stroke="#1b9e77" stroke-width="0.95" stroke-opacity="0.9"/>
<line x1="613.52" y1="560.35" x2="613.52" y2="611.23" stroke="#d95f02" stroke-width="0.95" stroke-opacity="0.9"/>
<line x1="617.92" y1="544.98" x2="617.92" y2="610.7" stroke="#1b9e77" stroke-width="0.95" stroke-opacity="0.9"/>
<line x1="622.32" y1="565.12" x2="622.32" y2="596.92" stroke="#d95f02" stroke-width="0.95" stroke-opacity="0.9"/>
<rect x="632.24" y="496.22" width="4.4" height="56.18" fill="#80bfa9" stroke="#1b9e77" stroke-width="1.5"/>
<rect x="636.64" y="472.9" width="4.4" height="79.5" fill="#dd9f72" stroke="#d95f02" stroke-width="1.5"/>
<rect x="641.04" y="552.4" width="4.4" height="54.06" fill="#e0f3ec" stroke="#1b9e77" stroke-width="1.5"/>
<rect x="645.44" y="548.16" width="4.4" height="4.24" fill="#fae3d3" stroke="#d95f02" stroke-width="1.5"/>
<line x1="634.44" y1="479.26" x2="634.44" y2="513.18" stroke="#1b9e77" stroke-width="0.95" stroke-opacity="0.9"/>
<line x1="638.84" y1="433.15" x2="638.84" y2="512.65" stroke="#d95f02" stroke-width="0.95" stroke-opacity="0.9"/>
<line x1="643.24" y1="598.51" x2="643.24" y2="614.41" stroke="#1b9e77" stroke-width="0.95" stroke-opacity="0.9"/>
<line x1="647.64" y1="535.97" x2="647.64" y2="560.35" stroke="#d95f02" stroke-width="0.95" stroke-opacity="0.9"/>
<rect x="657.56" y="552.4" width="4.4" height="2.12" fill="#80bfa9" stroke="#1b9e77" stroke-width="1.5"/>
<rect x="661.96" y="552.4" width="4.4" height="21.73" fill="#dd9f72" stroke="#d95f02" stroke-width="1.5"/>
<rect x="666.36" y="552.4" width="4.4" height="41.34" fill="#e0f3ec" stroke="#1b9e77" stroke-width="1.5"/>
<rect x="670.76" y="552.4" width="4.4" height="7.95" fill="#fae3d3" stroke="#d95f02" stroke-width="1.5"/>
<line x1="659.76" y1="542.86" x2="659.76" y2="566.18" stroke="#1b9e77" stroke-width="0.95" stroke-opacity="0.9"/>
<line x1="664.16" y1="568.3" x2="664.16" y2="579.96" stroke="#d95f02" stroke-width="0.95" stroke-opacity="0.9"/>
<line x1="668.56" y1="587.91" x2="668.56" y2="599.57" stroke="#1b9e77" stroke-width="0.95" stroke-opacity="0.9"/>
<line x1="672.96" y1="550.28" x2="672.96" y2="570.42" stroke="#d95f02" stroke-width="0.95" stroke-opacity="0.9"/>
<rect x="682.88" y="552.4" width="4.4" height="18.02" fill="#80bfa9" stroke="#1b9e77" stroke-width="1.5"/>
<rect x="687.28" y="552.4" width="4.4" height="13.78" fill="#dd9f72" stroke="#d95f02" stroke-width="1.5"/>
<rect x="691.68" y="552.4" width="4.4" height="39.22" fill="#e0f3ec" stroke="#1b9e77" stroke-width="1.5"/>
<rect x="696.08" y="552.4" width="4.4" height="19.61" fill="#fae3d3" stroke="#d95f02" stroke-width="1.5"/>
<line x1="685.08" y1="566.71" x2="685.08" y2="574.13" stroke="#1b9e77" stroke-width="0.95" stroke-opacity="0.9"/>
<line x1="689.48" y1="553.46" x2="689.48" y2="578.9" stroke="#d95f02" stroke-width="0.95" stroke-opacity="0.9"/>
<line x1="693.88" y1="583.67" x2="693.88" y2="599.57" stroke="#1b9e77" stroke-width="0.95" stroke-opacity="0.9"/>
<line x1="698.28" y1="565.12" x2="698.28" y2="578.9" stroke="#d95f02" stroke-width="0.95" stroke-opacity="0.9"/>
<rect x="708.2" y="552.4" width="4.4" height="32.33" fill="#80bfa9" stroke="#1b9e77" stroke-width="1.5"/>
<rect x="712.6" y="552.4" width="4.4" height="36.57" fill="#dd9f72" stroke="#d95f02" stroke-width="1.5"/>
<rect x="717" y="552.4" width="4.4" height="72.61" fill="#e0f3ec" stroke="#1b9e77" stroke-width="1.5"/>
<rect x="721.4" y="552.4" width="4.4" height="50.88" fill="#fae3d3" stroke="#d95f02" stroke-width="1.5"/>
<line x1="710.4" y1="566.18" x2="710.4" y2="603.28" stroke="#1b9e77" stroke-width="0.95" stroke-opacity="0.9"/>
<line x1="714.8" y1="584.2" x2="714.8" y2="593.74" stroke="#d95f02" stroke-width="0.95" stroke-opacity="0.9"/>
<line x1="719.2" y1="606.46" x2="719.2" y2="643.56" stroke="#1b9e77" stroke-width="0.95" stroke-opacity="0.9"/>
<line x1="723.6" y1="595.86" x2="723.6" y2="610.7" stroke="#d95f02" stroke-width="0.95" stroke-opacity="0.9"/>
<circle cx="77.4" cy="413.54" r="1.45" fill="#2a7f66"/>
<circle cx="86.2" cy="436.86" r="1.45" fill="#2a7f66"/>
<circle cx="204" cy="500.46" r="1.45" fill="#2a7f66"/>
<circle cx="351.52" cy="483.5" r="1.45" fill="#2a7f66"/>
<circle cx="355.92" cy="483.5" r="1.45" fill="#2a7f66"/>
<circle cx="360.32" cy="483.5" r="1.45" fill="#2a7f66"/>
<circle cx="402.16" cy="646.21" r="1.45" fill="#2a7f66"/>
<circle cx="406.56" cy="646.21" r="1.45" fill="#2a7f66"/>
<circle cx="410.96" cy="646.21" r="1.45" fill="#2a7f66"/>
<circle cx="457.2" cy="472.9" r="1.45" fill="#2a7f66"/>
<circle cx="634.44" cy="468.66" r="1.45" fill="#2a7f66"/>
<rect x="75.4" y="389.5" width="650.4" height="325.5" fill="none" stroke="#333" stroke-width="1.1"/>
<line x1="84" y1="715" x2="84" y2="718.2" stroke="#333" stroke-width="1"/>
<text transform="translate(90,720.0) rotate(-90)" font-size="8.7" font-style="italic" text-anchor="end" fill="#333" stroke="#333" stroke-width="0.15">GAD</text>
<line x1="109.32" y1="715" x2="109.32" y2="718.2" stroke="#333" stroke-width="1"/>
<text transform="translate(115.32,720.0) rotate(-90)" font-size="8.7" font-style="italic" text-anchor="end" fill="#333" stroke="#333" stroke-width="0.15">GAD2</text>
<line x1="134.64" y1="715" x2="134.64" y2="718.2" stroke="#333" stroke-width="1"/>
<text transform="translate(140.64,720.0) rotate(-90)" font-size="8.7" font-style="italic" text-anchor="end" fill="#333" stroke="#333" stroke-width="0.15">GAD3</text>
<line x1="159.96" y1="715" x2="159.96" y2="718.2" stroke="#333" stroke-width="1"/>
<text transform="translate(165.96,720.0) rotate(-90)" font-size="8.7" font-style="italic" text-anchor="end" fill="#333" stroke="#333" stroke-width="0.15">GAD4</text>
<line x1="185.28" y1="715" x2="185.28" y2="718.2" stroke="#333" stroke-width="1"/>
<text transform="translate(191.28,720.0) rotate(-90)" font-size="8.7" font-style="italic" text-anchor="end" fill="#333" stroke="#333" stroke-width="0.15">GAD5</text>
<line x1="210.6" y1="715" x2="210.6" y2="718.2" stroke="#333" stroke-width="1"/>
<text transform="translate(216.6,720.0) rotate(-90)" font-size="8.7" font-style="italic" text-anchor="end" fill="#333" stroke="#333" stroke-width="0.15">POP2</text>
<line x1="235.92" y1="715" x2="235.92" y2="718.2" stroke="#333" stroke-width="1"/>
<text transform="translate(241.92,720.0) rotate(-90)" font-size="8.7" font-style="italic" text-anchor="end" fill="#333" stroke="#333" stroke-width="0.15">SSADH1</text>
<line x1="261.24" y1="715" x2="261.24" y2="718.2" stroke="#333" stroke-width="1"/>
<text transform="translate(267.24,720.0) rotate(-90)" font-size="8.7" font-style="italic" text-anchor="end" fill="#333" stroke="#333" stroke-width="0.15">ASN1</text>
<line x1="286.56" y1="715" x2="286.56" y2="718.2" stroke="#333" stroke-width="1"/>
<text transform="translate(292.56,720.0) rotate(-90)" font-size="8.7" font-style="italic" text-anchor="end" fill="#333" stroke="#333" stroke-width="0.15">ASN2</text>
<line x1="311.88" y1="715" x2="311.88" y2="718.2" stroke="#333" stroke-width="1"/>
<text transform="translate(317.88,720.0) rotate(-90)" font-size="8.7" font-style="italic" text-anchor="end" fill="#333" stroke="#333" stroke-width="0.15">ASN3</text>
<line x1="337.2" y1="715" x2="337.2" y2="718.2" stroke="#333" stroke-width="1"/>
<text transform="translate(343.2,720.0) rotate(-90)" font-size="8.7" font-style="italic" text-anchor="end" fill="#333" stroke="#333" stroke-width="0.15">ASP1</text>
<line x1="362.52" y1="715" x2="362.52" y2="718.2" stroke="#333" stroke-width="1"/>
<text transform="translate(368.52,720.0) rotate(-90)" font-size="8.7" font-style="italic" text-anchor="end" fill="#333" stroke="#333" stroke-width="0.15">ASP2</text>
<line x1="387.84" y1="715" x2="387.84" y2="718.2" stroke="#333" stroke-width="1"/>
<text transform="translate(393.84,720.0) rotate(-90)" font-size="8.7" font-style="italic" text-anchor="end" fill="#333" stroke="#333" stroke-width="0.15">ASP3</text>
<line x1="413.16" y1="715" x2="413.16" y2="718.2" stroke="#333" stroke-width="1"/>
<text transform="translate(419.16,720.0) rotate(-90)" font-size="8.7" font-style="italic" text-anchor="end" fill="#333" stroke="#333" stroke-width="0.15">ASP4</text>
<line x1="438.48" y1="715" x2="438.48" y2="718.2" stroke="#333" stroke-width="1"/>
<text transform="translate(444.48,720.0) rotate(-90)" font-size="8.7" font-style="italic" text-anchor="end" fill="#333" stroke="#333" stroke-width="0.15">ASP5</text>
<line x1="463.8" y1="715" x2="463.8" y2="718.2" stroke="#333" stroke-width="1"/>
<text transform="translate(469.8,720.0) rotate(-90)" font-size="8.7" font-style="italic" text-anchor="end" fill="#333" stroke="#333" stroke-width="0.15">GDH1</text>
<line x1="489.12" y1="715" x2="489.12" y2="718.2" stroke="#333" stroke-width="1"/>
<text transform="translate(495.12,720.0) rotate(-90)" font-size="8.7" font-style="italic" text-anchor="end" fill="#333" stroke="#333" stroke-width="0.15">GDH2</text>
<line x1="514.44" y1="715" x2="514.44" y2="718.2" stroke="#333" stroke-width="1"/>
<text transform="translate(520.44,720.0) rotate(-90)" font-size="8.7" font-style="italic" text-anchor="end" fill="#333" stroke="#333" stroke-width="0.15">GDH3</text>
<line x1="539.76" y1="715" x2="539.76" y2="718.2" stroke="#333" stroke-width="1"/>
<text transform="translate(545.76,720.0) rotate(-90)" font-size="8.7" font-style="italic" text-anchor="end" fill="#333" stroke="#333" stroke-width="0.15">GLT1</text>
<line x1="565.08" y1="715" x2="565.08" y2="718.2" stroke="#333" stroke-width="1"/>
<text transform="translate(571.08,720.0) rotate(-90)" font-size="8.7" font-style="italic" text-anchor="end" fill="#333" stroke="#333" stroke-width="0.15">GLU1</text>
<line x1="590.4" y1="715" x2="590.4" y2="718.2" stroke="#333" stroke-width="1"/>
<text transform="translate(596.4,720.0) rotate(-90)" font-size="8.7" font-style="italic" text-anchor="end" fill="#333" stroke="#333" stroke-width="0.15">GLU2</text>
<line x1="615.72" y1="715" x2="615.72" y2="718.2" stroke="#333" stroke-width="1"/>
<text transform="translate(621.72,720.0) rotate(-90)" font-size="8.7" font-style="italic" text-anchor="end" fill="#333" stroke="#333" stroke-width="0.15">GLN1;3</text>
<line x1="641.04" y1="715" x2="641.04" y2="718.2" stroke="#333" stroke-width="1"/>
<text transform="translate(647.04,720.0) rotate(-90)" font-size="8.7" font-style="italic" text-anchor="end" fill="#333" stroke="#333" stroke-width="0.15">GLN1;4</text>
<line x1="666.36" y1="715" x2="666.36" y2="718.2" stroke="#333" stroke-width="1"/>
<text transform="translate(672.36,720.0) rotate(-90)" font-size="8.7" font-style="italic" text-anchor="end" fill="#333" stroke="#333" stroke-width="0.15">GLN1;5</text>
<line x1="691.68" y1="715" x2="691.68" y2="718.2" stroke="#333" stroke-width="1"/>
<text transform="translate(697.68,720.0) rotate(-90)" font-size="8.7" font-style="italic" text-anchor="end" fill="#333" stroke="#333" stroke-width="0.15">GS1</text>
<line x1="717" y1="715" x2="717" y2="718.2" stroke="#333" stroke-width="1"/>
<text transform="translate(723,720.0) rotate(-90)" font-size="8.7" font-style="italic" text-anchor="end" fill="#333" stroke="#333" stroke-width="0.15">GS2</text>
<line x1="79" y1="764" x2="190.5" y2="764" stroke="#333" stroke-width="1.5"/>
<text x="134.75" y="777.6" font-size="10.5" font-style="italic" text-anchor="middle" fill="#1a1a1a" stroke="#1a1a1a" stroke-width="0.15">GAD</text>
<line x1="256.5" y1="764" x2="317" y2="764" stroke="#333" stroke-width="1.5"/>
<text x="286.75" y="777.6" font-size="10.5" font-style="italic" text-anchor="middle" fill="#1a1a1a" stroke="#1a1a1a" stroke-width="0.15">ASN</text>
<line x1="332.4" y1="764" x2="443.5" y2="764" stroke="#333" stroke-width="1.5"/>
<text x="387.95" y="777.6" font-size="10.5" font-style="italic" text-anchor="middle" fill="#1a1a1a" stroke="#1a1a1a" stroke-width="0.15">AspAT</text>
<line x1="459" y1="764" x2="519.4" y2="764" stroke="#333" stroke-width="1.5"/>
<text x="489.2" y="777.6" font-size="10.5" font-style="italic" text-anchor="middle" fill="#1a1a1a" stroke="#1a1a1a" stroke-width="0.15">GDH</text>
<line x1="535" y1="764" x2="595.6" y2="764" stroke="#333" stroke-width="1.5"/>
<text x="565.3" y="777.6" font-size="10.5" font-style="italic" text-anchor="middle" fill="#1a1a1a" stroke="#1a1a1a" stroke-width="0.15">GOGAT</text>
<line x1="611" y1="764" x2="722" y2="764" stroke="#333" stroke-width="1.5"/>
<text x="666.5" y="777.6" font-size="10.5" font-style="italic" text-anchor="middle" fill="#1a1a1a" stroke="#1a1a1a" stroke-width="0.15">GS</text>
<text transform="translate(29.3,553) rotate(-90)" font-size="10.9" text-anchor="middle" fill="#000">Relative transcript level</text>
<text transform="translate(48.3,553) rotate(-90)" font-size="10.9" text-anchor="middle" fill="#000">[log<tspan font-size="8" dy="2.2">2</tspan><tspan dy="-2.2">-FC (mutant / WT)]</tspan></text>
</svg>
</body></html>
